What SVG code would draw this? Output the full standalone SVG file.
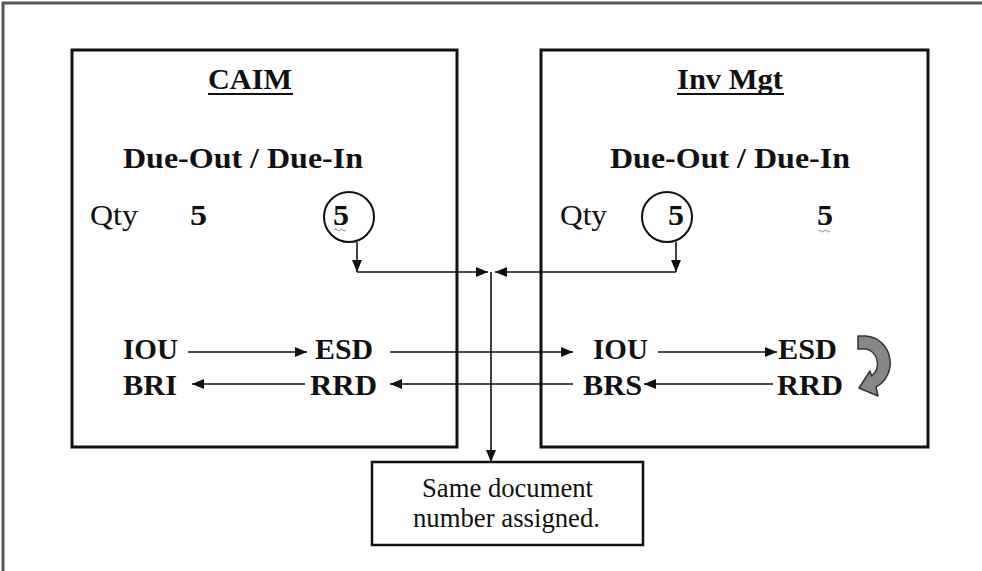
<svg xmlns="http://www.w3.org/2000/svg" width="982" height="571" viewBox="0 0 982 571">
  <style>
    .box { fill: none; stroke: #111; stroke-width: 3; }
    .frame { fill: none; stroke: #555; stroke-width: 3; }
    .lbl { font-family: "Liberation Serif", "Times New Roman", serif; fill: #111; }
    .title { font-size: 30px; font-weight: bold; }
    .hdr { font-size: 30px; font-weight: bold; }
    .qty { font-size: 30px; }
    .code { font-size: 29px; font-weight: bold; }
    .note { font-size: 27px; }
    .edge { fill: none; stroke: #111; stroke-width: 1.6; }
    .ul { stroke: #111; stroke-width: 2; }
    .sq { fill: none; stroke: #888; stroke-width: 1; }
  </style>
  <defs>
    <marker id="arrow" viewBox="0 0 12 10" refX="12" refY="5" markerWidth="12" markerHeight="10" markerUnits="userSpaceOnUse" orient="auto">
      <path d="M0,0 L12,5 L0,10 Z" fill="#111"/>
    </marker>
  </defs>

  <rect width="982" height="571" fill="#fff"/>
  <!-- page frame (open on right and bottom) -->
  <path class="frame" d="M3,571 V3 H982"/>

  <!-- CAIM system -->
  <g id="caim">
    <rect class="box" x="72" y="50" width="385" height="397"/>
    <text class="lbl title" x="208" y="89" textLength="84" lengthAdjust="spacingAndGlyphs">CAIM</text>
    <line class="ul" x1="208" y1="94" x2="293" y2="94"/>
    <text class="lbl hdr" x="123" y="168" textLength="240" lengthAdjust="spacingAndGlyphs">Due-Out  / Due-In</text>
    <text class="lbl qty" x="90" y="225" textLength="48" lengthAdjust="spacingAndGlyphs">Qty</text>
    <text class="lbl hdr" x="190" y="225" textLength="17" lengthAdjust="spacingAndGlyphs">5</text>
    <circle cx="349" cy="217" r="25" fill="none" stroke="#111" stroke-width="2"/>
    <text class="lbl hdr" x="333" y="225" textLength="16" lengthAdjust="spacingAndGlyphs">5</text>
    <path class="sq" d="M334,230 q1.5,-2 3,0 t3,0 t3,0 t3,0"/>
    <text class="lbl code" x="123" y="359" textLength="55" lengthAdjust="spacingAndGlyphs">IOU</text>
    <text class="lbl code" x="315" y="359" textLength="58" lengthAdjust="spacingAndGlyphs">ESD</text>
    <text class="lbl code" x="123" y="395" textLength="54" lengthAdjust="spacingAndGlyphs">BRI</text>
    <text class="lbl code" x="310" y="395" textLength="67" lengthAdjust="spacingAndGlyphs">RRD</text>
  </g>

  <!-- Inventory management system -->
  <g id="inv-mgt">
    <rect class="box" x="541" y="50" width="387" height="397"/>
    <text class="lbl title" x="677" y="89" textLength="106" lengthAdjust="spacingAndGlyphs">Inv Mgt</text>
    <line class="ul" x1="677" y1="94" x2="784" y2="94"/>
    <text class="lbl hdr" x="610" y="168" textLength="240" lengthAdjust="spacingAndGlyphs">Due-Out  / Due-In</text>
    <text class="lbl qty" x="560" y="225" textLength="47" lengthAdjust="spacingAndGlyphs">Qty</text>
    <circle cx="667" cy="217" r="25" fill="none" stroke="#111" stroke-width="2"/>
    <text class="lbl hdr" x="668" y="225" textLength="16" lengthAdjust="spacingAndGlyphs">5</text>
    <text class="lbl hdr" x="817" y="225" textLength="16" lengthAdjust="spacingAndGlyphs">5</text>
    <path class="sq" d="M818,231 q1.5,-2 3,0 t3,0 t3,0 t3,0"/>
    <text class="lbl code" x="593" y="359" textLength="55" lengthAdjust="spacingAndGlyphs">IOU</text>
    <text class="lbl code" x="778" y="359" textLength="59" lengthAdjust="spacingAndGlyphs">ESD</text>
    <text class="lbl code" x="583" y="395" textLength="59" lengthAdjust="spacingAndGlyphs">BRS</text>
    <text class="lbl code" x="777" y="395" textLength="66" lengthAdjust="spacingAndGlyphs">RRD</text>
    <!-- turn-around arrow from ESD back to RRD -->
    <path d="M858,336 L866,336 A26,27 0 0 1 876,387 L878,396 L859,388 L870,371 L871.5,376 A14,15 0 0 0 866,349 L858,349 Z" fill="#888" stroke="#333" stroke-width="1.5" stroke-linejoin="round"/>
  </g>

  <!-- shared document number note -->
  <g id="doc-note">
    <rect x="372" y="462" width="271" height="83" fill="#fff" stroke="#111" stroke-width="2.5"/>
    <text class="lbl note" x="422" y="497" textLength="171" lengthAdjust="spacingAndGlyphs">Same document</text>
    <text class="lbl note" x="413" y="527" textLength="187" lengthAdjust="spacingAndGlyphs">number assigned.</text>
  </g>

  <g id="connectors">
    <!-- due-in / due-out quantities to the shared document number -->
    <path class="edge" d="M357,242 V272" marker-end="url(#arrow)"/>
    <path class="edge" d="M676,242 V272" marker-end="url(#arrow)"/>
    <path class="edge" d="M357,272 H488" marker-end="url(#arrow)"/>
    <path class="edge" d="M676,272 H495" marker-end="url(#arrow)"/>
    <path class="edge" d="M491,272 V462" marker-end="url(#arrow)"/>
    <!-- transaction flow -->
    <path class="edge" d="M188,352 H307" marker-end="url(#arrow)"/>
    <path class="edge" d="M390,352 H573" marker-end="url(#arrow)"/>
    <path class="edge" d="M658,352 H777" marker-end="url(#arrow)"/>
    <path class="edge" d="M773,384 H644" marker-end="url(#arrow)"/>
    <path class="edge" d="M573,384 H390" marker-end="url(#arrow)"/>
    <path class="edge" d="M305,384 H192" marker-end="url(#arrow)"/>
  </g>
</svg>
